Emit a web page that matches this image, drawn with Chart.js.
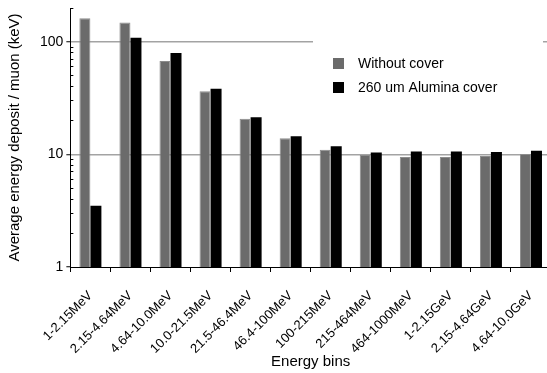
<!DOCTYPE html>
<html>
<head>
<meta charset="utf-8">
<script src="https://cdn.jsdelivr.net/npm/chart.js@4.4.0/dist/chart.umd.min.js"></script>
<style>
html, body { margin: 0; padding: 0; overflow: hidden; background: #fff; }
canvas { display: block; }
</style>
</head>
<body>
<canvas id="myChart" width="553" height="373"></canvas>
<script>
const bins = ['1-2.15MeV', '2.15-4.64MeV', '4.64-10.0MeV', '10.0-21.5MeV', '21.5-46.4MeV', '46.4-100MeV',
    '100-215MeV', '215-464MeV', '464-1000MeV', '1-2.15GeV', '2.15-4.64GeV', '4.64-10.0GeV']
const withoutCover = [162, 149, 67.7, 36.5, 20.8, 13.9, 11.0, 9.9, 9.5, 9.5, 9.7, 10.1]
const aluminaCover = [3.5, 109, 79.8, 38.4, 21.4, 14.5, 11.8, 10.4, 10.6, 10.6, 10.5, 10.8]
const yLabels = [1, 10, 100]
const yMinorTicks = [2, 3, 4, 5, 6, 7, 8, 9, 20, 30, 40, 50, 60, 70, 80, 90, 200]
const yGridLines = [10, 100]

const font = '"Liberation Sans", Arial, sans-serif'

// white box with the legend, drawn over the grid line like in the original
const legendBox = {
    id: 'legendBox',
    afterDatasetsDraw(chart) {
        const ctx = chart.ctx
        ctx.save()
        ctx.fillStyle = '#fff'
        ctx.fillRect(313, 30, 230, 72)
        ctx.font = '14px ' + font
        ctx.textBaseline = 'middle'
        chart.data.datasets.forEach((ds, i) => {
            const y = 58 + i * 24
            ctx.fillStyle = ds.backgroundColor
            ctx.fillRect(333, y, 11, 11)
            ctx.fillStyle = '#000'
            ctx.fillText(ds.label, 358, y + 6)
        })
        ctx.restore()
    }
}

const data = {
    labels: bins,
    datasets: [{
        label: 'Without cover',
        data: withoutCover,
        backgroundColor: '#6b6b6b',
        borderColor: '#8c8c8c',
        borderWidth: 1,
        yAxisID: 'y'
    }, {
        label: '260 um Alumina cover',
        data: aluminaCover,
        backgroundColor: '#000000',
        yAxisID: 'y'
    }]
}

const config = {
    type: 'bar',
    data: data,
    options: {
        animation: false,
        responsive: false,
        categoryPercentage: 0.55,
        barPercentage: 1,
        layout: { padding: { top: 8, right: 2, bottom: 0, left: 2 } },
        plugins: {
            legend: { display: false },
            tooltip: { enabled: false }
        },
        scales: {
            x: {
                afterFit(scale) {
                    // fixed height, and let the plot run to the right edge (it is cut off there)
                    scale.height = 106
                    scale.paddingRight = 0
                },
                grid: { offset: true, drawOnChartArea: false, tickLength: 5, tickColor: '#000', tickWidth: 1 },
                border: { color: '#000', width: 1 },
                ticks: { color: '#000', font: { family: font, size: 13 }, maxRotation: 45, minRotation: 45, padding: 16 },
                title: { display: true, text: 'Energy bins', color: '#000', font: { family: font, size: 15 }, padding: { top: 0, bottom: 2 } }
            },
            y: {
                type: 'logarithmic',
                weight: 1,
                min: 1,
                max: 200,
                afterBuildTicks(scale) {
                    scale.ticks = yLabels.map(v => ({ value: v }))
                },
                afterFit(scale) {
                    scale.paddingTop = 0
                    scale.paddingBottom = 0
                },
                grid: {
                    color: c => yGridLines.includes(c.tick && c.tick.value) ? '#a3a3a3' : 'rgba(0,0,0,0)',
                    lineWidth: 1.5,
                    tickColor: '#000',
                    tickWidth: 1,
                    tickLength: 4
                },
                border: { color: '#000', width: 1 },
                ticks: {
                    color: '#000',
                    font: { family: font, size: 14 },
                    autoSkip: false,
                    padding: 3,
                    callback: v => String(v)
                },
                title: { display: true, text: 'Average energy deposit / muon (keV)', color: '#000', font: { family: font, size: 15 }, padding: { bottom: 13 } }
            },
            // minor ticks point into the plot
            yMinor: {
                type: 'logarithmic',
                position: 'left',
                weight: -1,
                min: 1,
                max: 200,
                afterBuildTicks(scale) {
                    scale.ticks = yMinorTicks.map(v => ({ value: v }))
                },
                afterFit(scale) {
                    scale.width = 0
                    scale.paddingTop = 0
                    scale.paddingBottom = 0
                },
                grid: { drawOnChartArea: false, tickLength: -3, tickColor: '#000', tickWidth: 1 },
                border: { display: false },
                ticks: { display: false }
            }
        }
    },
    plugins: [legendBox]
}

const myChart = new Chart(document.querySelector('#myChart'), config)
</script>
</body>
</html>
